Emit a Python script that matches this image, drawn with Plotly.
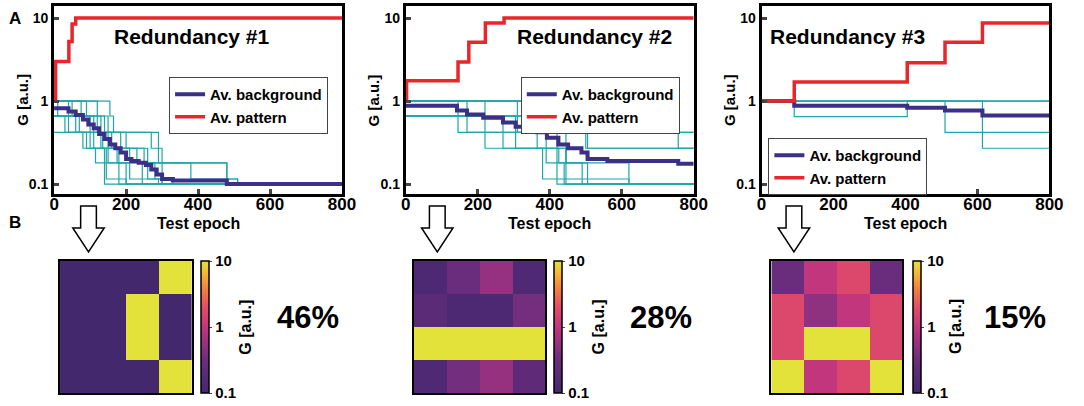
import numpy as np
import plotly.graph_objects as go

# ---------------- data ----------------
EPOCH_TICKS = [0, 200, 400, 600, 800]
G_TICKS = [0.1, 1, 10]
G_TICK_LABELS = ["0.1", "1", "10"]
TITLES = ["Redundancy #1", "Redundancy #2", "Redundancy #3"]
PERCENTS = ["46%", "28%", "15%"]

# Redundancy #1
R1_PATTERN_EPOCH = [0, 4, 41, 50, 60, 800]
R1_PATTERN_G = [1.0, 3.0, 5.2, 8.5, 10, 10]
R1_BG_EPOCH = [0, 40, 60, 80, 95, 110, 125, 140, 155, 170, 185, 200, 215, 235, 255, 270, 285, 300, 330, 480, 800]
R1_BG_G = [0.82, 0.75, 0.68, 0.6, 0.52, 0.47, 0.4, 0.35, 0.3, 0.27, 0.24, 0.2, 0.19, 0.18, 0.17, 0.15, 0.13, 0.115, 0.11, 0.1, 0.1]
R1_CELL_EPOCHS = [
    [0, 10, 70, 110, 150, 200, 800],
    [0, 75, 110, 135, 175, 260, 300, 800],
    [0, 40, 100, 140, 180, 800],
    [0, 155, 165, 290, 300, 480, 510, 800],
    [0, 60, 130, 230, 300, 800],
    [0, 50, 120, 160, 250, 280, 330, 800],
    [0, 80, 115, 140, 800],
    [0, 40, 130, 200, 260, 480, 800],
    [0, 100, 185, 210, 290, 800],
    [0, 120, 140, 150, 180, 245, 800],
    [0, 30, 90, 145, 200, 800],
    [0, 90, 150, 270, 290, 380, 510, 800],
]
R1_CELL_G = [
    [1, 0.66, 0.42, 0.27, 0.18, 0.1, 0.1],
    [1, 0.66, 0.42, 0.27, 0.18, 0.115, 0.1, 0.1],
    [0.66, 0.42, 0.27, 0.18, 0.1, 0.1],
    [1, 0.66, 0.42, 0.27, 0.18, 0.115, 0.1, 0.1],
    [0.66, 0.42, 0.27, 0.18, 0.1, 0.1],
    [1, 0.66, 0.42, 0.27, 0.18, 0.115, 0.1, 0.1],
    [0.42, 0.27, 0.18, 0.1, 0.1],
    [1, 0.66, 0.42, 0.27, 0.18, 0.1, 0.1],
    [0.66, 0.42, 0.27, 0.115, 0.1, 0.1],
    [1, 0.66, 0.42, 0.27, 0.18, 0.1, 0.1],
    [0.66, 0.42, 0.27, 0.115, 0.1, 0.1],
    [1, 0.66, 0.42, 0.27, 0.18, 0.115, 0.1, 0.1],
]

# Redundancy #2
R2_PATTERN_EPOCH = [0, 2, 145, 175, 221, 273, 800]
R2_PATTERN_G = [1.0, 1.75, 2.95, 5.1, 8.7, 10, 10]
R2_BG_EPOCH = [0, 142, 170, 215, 270, 305, 365, 392, 424, 451, 488, 505, 560, 757, 800]
R2_BG_G = [0.88, 0.77, 0.69, 0.63, 0.55, 0.49, 0.42, 0.36, 0.3, 0.27, 0.24, 0.2, 0.19, 0.175, 0.175]
R2_CELL_EPOCHS = [
    [0, 310, 550, 800],
    [0, 145, 270, 390, 420, 800],
    [0, 170, 305, 380, 620, 800],
    [0, 220, 445, 490, 800],
    [0, 425, 505, 800],
    [0, 220, 365, 757, 800],
    [0, 270, 445, 800],
    [0, 170, 310, 420, 505, 800],
    [0, 305, 390, 445, 620, 800],
    [0, 390, 500, 800],
    [0, 145, 365, 425, 440, 800],
    [0, 555, 800],
]
R2_CELL_G = [
    [1, 0.66, 0.42, 0.42],
    [1, 0.42, 0.27, 0.18, 0.1, 0.1],
    [0.66, 0.42, 0.27, 0.115, 0.1, 0.1],
    [0.66, 0.27, 0.18, 0.1, 0.1],
    [1, 0.42, 0.27, 0.27],
    [1, 0.66, 0.42, 0.27, 0.27],
    [0.66, 0.42, 0.1, 0.1],
    [1, 0.66, 0.42, 0.18, 0.1, 0.1],
    [0.66, 0.42, 0.27, 0.18, 0.1, 0.1],
    [1, 0.42, 0.27, 0.27],
    [0.66, 0.66, 0.27, 0.18, 0.1, 0.1],
    [1, 0.42, 0.42],
]

# Redundancy #3
R3_PATTERN_EPOCH = [0, 91, 405, 510, 614, 800]
R3_PATTERN_G = [1.0, 1.7, 2.9, 5.1, 8.7, 8.7]
R3_BG_EPOCH = [0, 91, 405, 510, 614, 800]
R3_BG_G = [1.0, 0.88, 0.83, 0.77, 0.67, 0.67]
R3_CELL_EPOCHS = [
    [0, 800],
    [0, 91, 405, 800],
    [0, 510, 800],
    [0, 614, 800],
]
R3_CELL_G = [
    [1, 1],
    [1, 0.65, 1, 1],
    [1, 0.42, 0.42],
    [1, 0.27, 0.27],
]

# Heatmaps (4x4 G maps, top row first)
MAP1_G = [[0.1, 0.1, 0.1, 10], [0.1, 0.1, 10, 0.1], [0.1, 0.1, 10, 0.1], [0.1, 0.1, 0.1, 10]]
MAP2_G = [[0.13, 0.3, 0.55, 0.14], [0.2, 0.13, 0.13, 0.35], [10, 10, 10, 10], [0.14, 0.35, 0.55, 0.22]]
MAP3_G = [[0.3, 1.0, 1.7, 0.3], [1.7, 0.5, 1.0, 1.7], [1.7, 10, 10, 1.7], [10, 1.0, 1.7, 10]]

# ---------------- styling / layout ----------------
W, H = 1084, 406
def px(x):
    return x / W
def py(y):
    return 1 - y / H

FONT = "Liberation Sans, Arial, sans-serif"
RED = "#e8262b"
BLUE = "#3b2f88"
CYAN = "#1fa6a8"
CSCALE = [[0.0, "#43286e"], [0.25, "#6c2d7e"], [0.5, "#c2367e"], [0.65, "#e44d66"],
          [0.8, "#f3853f"], [0.9, "#f6b535"], [1.0, "#e2e23a"]]

top_x = [(50, 343), (408, 701), (770, 1063)]
top_y = (6, 194)
map_x = [(56, 190), (416, 550), (780, 913)]
map_y = (261, 393)
cbar_x = [200, 559, 924]
cbar_title_x = [244, 604, 967]
legend_pos = [(167, 77), (525, 77), (777, 138)]
title_pos = [(190, 37), (600, 37), (858, 37)]
pct_x = [308, 668, 1028]
arrow_cx = [85, 440, 803]

fig = go.Figure()

panels = [
    (R1_CELL_EPOCHS, R1_CELL_G, R1_BG_EPOCH, R1_BG_G, R1_PATTERN_EPOCH, R1_PATTERN_G),
    (R2_CELL_EPOCHS, R2_CELL_G, R2_BG_EPOCH, R2_BG_G, R2_PATTERN_EPOCH, R2_PATTERN_G),
    (R3_CELL_EPOCHS, R3_CELL_G, R3_BG_EPOCH, R3_BG_G, R3_PATTERN_EPOCH, R3_PATTERN_G),
]
maps = [MAP1_G, MAP2_G, MAP3_G]

layout = dict(
    width=W, height=H, margin=dict(l=0, r=0, t=0, b=0),
    paper_bgcolor="white", plot_bgcolor="white",
    font=dict(family=FONT, color="black"),
    showlegend=True,
)
annotations = []
shapes = []

for i, (ce, cg, be, bg, pe, pg) in enumerate(panels):
    n = i + 1
    xa = "x" if n == 1 else f"x{n}"
    ya = "y" if n == 1 else f"y{n}"
    lg = "legend" if n == 1 else f"legend{n}"
    for e, g in zip(ce, cg):
        fig.add_trace(go.Scatter(x=e, y=g, mode="lines", line=dict(color=CYAN, width=1.2, shape="hv"),
                                 xaxis=xa, yaxis=ya, showlegend=False, hoverinfo="skip"))
    fig.add_trace(go.Scatter(x=be, y=bg, mode="lines", line=dict(color=BLUE, width=4, shape="hv"),
                             xaxis=xa, yaxis=ya, name="Av. background", legend=lg))
    fig.add_trace(go.Scatter(x=pe, y=pg, mode="lines", line=dict(color=RED, width=3.5, shape="hv"),
                             xaxis=xa, yaxis=ya, name="Av. pattern", legend=lg))
    kx = "xaxis" if n == 1 else f"xaxis{n}"
    ky = "yaxis" if n == 1 else f"yaxis{n}"
    layout[kx] = dict(domain=[px(top_x[i][0]), px(top_x[i][1])], anchor=ya, range=[0, 800],
                      tickvals=EPOCH_TICKS, ticks="inside", ticklen=5, tickwidth=3,
                      showline=True, mirror=True, linewidth=3, linecolor="black",
                      showgrid=False, zeroline=False, ticklabelstandoff=-7,
                      tickfont=dict(size=17, family=FONT, weight="bold"))
    layout[ky] = dict(domain=[py(top_y[1]), py(top_y[0])], anchor=xa, type="log", range=[-1.12, 1.145],
                      tickvals=G_TICKS, ticktext=G_TICK_LABELS, ticks="inside", ticklen=5, tickwidth=3,
                      showline=True, mirror=True, linewidth=3, linecolor="black",
                      showgrid=False, zeroline=False,
                      tickfont=dict(size=14, family=FONT, weight="bold"))
    lx, ly = legend_pos[i]
    layout[lg] = dict(x=px(lx), y=py(ly), xanchor="left", yanchor="top",
                      bgcolor="white", bordercolor="#444", borderwidth=1,
                      font=dict(size=15, family=FONT, weight="bold"),
                      tracegroupgap=0, itemwidth=30)
    tx, ty = title_pos[i]
    annotations.append(dict(text="<b>" + TITLES[i] + "</b>", x=px(tx), y=py(ty), xref="paper", yref="paper",
                            showarrow=False, font=dict(size=21, family=FONT), xanchor="center", yanchor="middle"))
    annotations.append(dict(text="<b>G [a.u.]</b>", x=px(top_x[i][0] - 33), y=py(100), xref="paper", yref="paper",
                            showarrow=False, textangle=-90, font=dict(size=15, family=FONT),
                            xanchor="center", yanchor="middle"))
    annotations.append(dict(text="<b>Test epoch</b>", x=px((top_x[i][0] + top_x[i][1]) / 2), y=py(223),
                            xref="paper", yref="paper", showarrow=False, font=dict(size=16, family=FONT),
                            xanchor="center", yanchor="middle"))

    # heatmap
    m = n + 3
    xm = f"x{m}"
    ym = f"y{m}"
    z = np.log10(np.array(maps[i], dtype=float))
    fig.add_trace(go.Heatmap(
        z=z, x=[0, 1, 2, 3], y=[0, 1, 2, 3], xaxis=xm, yaxis=ym,
        colorscale=CSCALE, zmin=-1, zmax=1, hoverinfo="skip",
        colorbar=dict(x=px(cbar_x[i]), xanchor="left", xpad=0, ypad=0, y=py((map_y[0] + map_y[1]) / 2),
                      yanchor="middle", len=map_y[1] - map_y[0], lenmode="pixels", thickness=8,
                      outlinewidth=1.5, outlinecolor="black",
                      tickvals=[-1, 0, 1], ticktext=G_TICK_LABELS, ticks="outside", ticklen=3,
                      tickfont=dict(size=15, family=FONT, weight="bold"))
    ))
    annotations.append(dict(text="<b>G [a.u.]</b>", x=px(cbar_title_x[i]), y=py(327), xref="paper", yref="paper",
                            showarrow=False, textangle=-90, font=dict(size=16, family=FONT),
                            xanchor="center", yanchor="middle"))
    layout[f"xaxis{m}"] = dict(domain=[px(map_x[i][0]), px(map_x[i][1])], anchor=ym, range=[-0.5, 3.5],
                               showticklabels=False, ticks="", showgrid=False, zeroline=False,
                               showline=True, mirror=True, linewidth=2, linecolor="black")
    layout[f"yaxis{m}"] = dict(domain=[py(map_y[1]), py(map_y[0])], anchor=xm, range=[3.5, -0.5],
                               showticklabels=False, ticks="", showgrid=False, zeroline=False,
                               showline=True, mirror=True, linewidth=2, linecolor="black")
    annotations.append(dict(text="<b>" + PERCENTS[i] + "</b>", x=px(pct_x[i]), y=py(317), xref="paper",
                            yref="paper", showarrow=False, font=dict(size=31, family=FONT),
                            xanchor="center", yanchor="middle"))
    # hollow arrow
    cx = arrow_cx[i]
    pts = [(cx - 8, 206), (cx + 8, 206), (cx + 8, 228), (cx + 16, 228), (cx, 252), (cx - 16, 228), (cx - 8, 228)]
    path = "M " + " L ".join(f"{px(a):.5f},{py(b):.5f}" for a, b in pts) + " Z"
    shapes.append(dict(type="path", path=path, xref="paper", yref="paper",
                       line=dict(color="black", width=1.5), fillcolor="white"))

annotations.append(dict(text="<b>A</b>", x=px(10), y=py(18), xref="paper", yref="paper", showarrow=False,
                        font=dict(size=17, family=FONT), xanchor="center", yanchor="middle"))
annotations.append(dict(text="<b>B</b>", x=px(10), y=py(222), xref="paper", yref="paper", showarrow=False,
                        font=dict(size=17, family=FONT), xanchor="center", yanchor="middle"))

layout["annotations"] = annotations
layout["shapes"] = shapes
fig.update_layout(**layout)
fig.write_html("out.html", config={"displayModeBar": False},
               post_script="document.body.style.margin='0';document.body.style.padding='0';"
                           "document.body.style.overflow='hidden';")
